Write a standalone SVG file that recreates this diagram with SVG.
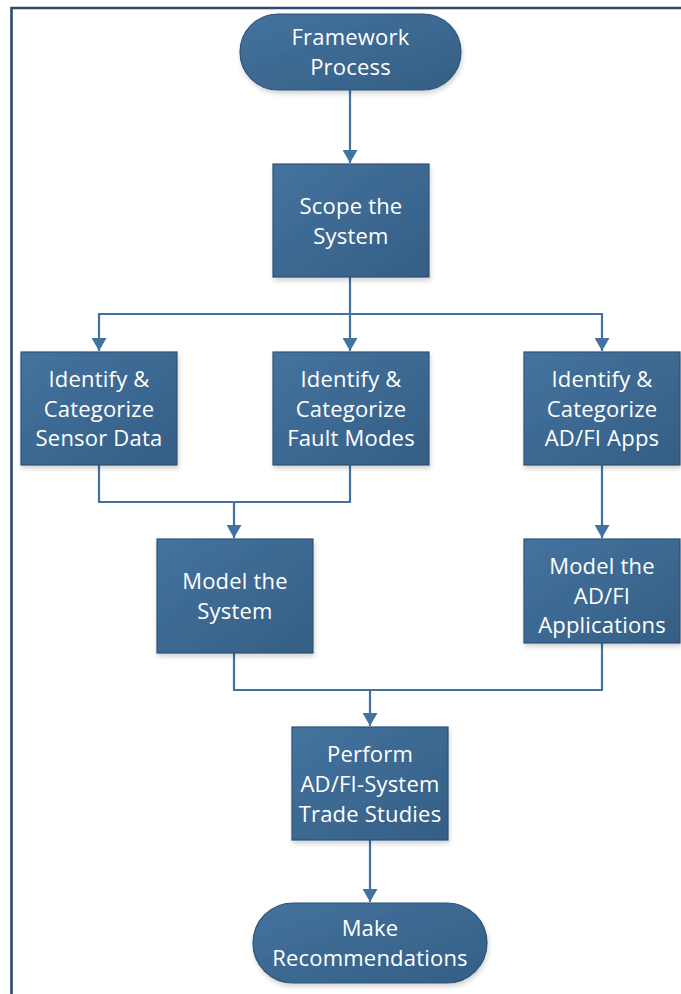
<svg xmlns="http://www.w3.org/2000/svg" width="681" height="994" viewBox="0 0 681 994">
<style>
.n{fill:url(#g);stroke:#2e5276;stroke-width:1.2;filter:url(#sh)}
.t{font-family:"Open Sans","Noto Sans","Liberation Sans",sans-serif;font-size:22px;fill:#ffffff;text-anchor:middle;letter-spacing:0.2px}
.c{fill:none;stroke:#4472a0;stroke-width:2.2}
</style>
<defs>
<linearGradient id="g" x1="0" y1="0" x2="1" y2="1">
<stop offset="0" stop-color="#44739e"/>
<stop offset="1" stop-color="#345e85"/>
</linearGradient>
<filter id="sh" x="-10%" y="-10%" width="130%" height="130%">
<feGaussianBlur in="SourceAlpha" stdDeviation="2.5"/>
<feOffset dx="1" dy="3" result="b"/>
<feComponentTransfer><feFuncA type="linear" slope="0.18"/></feComponentTransfer>
<feMerge><feMergeNode/><feMergeNode in="SourceGraphic"/></feMerge>
</filter>
<marker id="a" viewBox="0 0 14 15" refX="13" refY="7.5" markerWidth="14" markerHeight="15" markerUnits="userSpaceOnUse" orient="auto">
<path d="M0,0 L13,7.5 L0,15 Z" fill="#4472a0"/>
</marker>
</defs>
<path d="M11.5,994 V8 H681" fill="none" stroke="#2c4a6e" stroke-width="2.6"/>
<g id="connectors">
<path class="c" d="M350,90 V163" marker-end="url(#a)"/>
<path class="c" d="M350,277 V314 H99 V351" marker-end="url(#a)"/>
<path class="c" d="M350,314 V351" marker-end="url(#a)"/>
<path class="c" d="M350,314 H602 V351" marker-end="url(#a)"/>
<path class="c" d="M99,465 V502 H350 V465"/>
<path class="c" d="M234,502 V538" marker-end="url(#a)"/>
<path class="c" d="M602,465 V538" marker-end="url(#a)"/>
<path class="c" d="M234,653 V690 H602 V643"/>
<path class="c" d="M370,690 V726" marker-end="url(#a)"/>
<path class="c" d="M370,840 V902" marker-end="url(#a)"/>
</g>
<g id="framework-process">
<rect class="n" x="240" y="14" width="221" height="76" rx="38" ry="38"/>
<text class="t" x="350.5" y="45">Framework</text>
<text class="t" x="350.5" y="75">Process</text>
</g>
<g id="scope-system">
<rect class="n" x="273" y="164" width="156" height="113"/>
<text class="t" x="351" y="213.5">Scope the</text>
<text class="t" x="351" y="243.5">System</text>
</g>
<g id="sensor-data">
<rect class="n" x="21" y="352" width="156" height="113"/>
<text class="t" x="99" y="386.5">Identify &amp;</text>
<text class="t" x="99" y="416.5">Categorize</text>
<text class="t" x="99" y="446">Sensor Data</text>
</g>
<g id="fault-modes">
<rect class="n" x="273" y="352" width="156" height="113"/>
<text class="t" x="351" y="386.5">Identify &amp;</text>
<text class="t" x="351" y="416.5">Categorize</text>
<text class="t" x="351" y="446">Fault Modes</text>
</g>
<g id="adfi-apps">
<rect class="n" x="524" y="352" width="156" height="113"/>
<text class="t" x="602" y="386.5">Identify &amp;</text>
<text class="t" x="602" y="416.5">Categorize</text>
<text class="t" x="602" y="446">AD/FI Apps</text>
</g>
<g id="model-system">
<rect class="n" x="157" y="539" width="156" height="114"/>
<text class="t" x="235" y="589">Model the</text>
<text class="t" x="235" y="619">System</text>
</g>
<g id="model-adfi">
<rect class="n" x="524" y="539" width="156" height="104"/>
<text class="t" x="602" y="574">Model the</text>
<text class="t" x="602" y="603.5">AD/FI</text>
<text class="t" x="602" y="633">Applications</text>
</g>
<g id="trade-studies">
<rect class="n" x="292" y="727" width="156" height="113"/>
<text class="t" x="370" y="762">Perform</text>
<text class="t" x="370" y="792">AD/FI-System</text>
<text class="t" x="370" y="821.5">Trade Studies</text>
</g>
<g id="recommendations">
<rect class="n" x="253" y="903" width="234" height="80" rx="40" ry="40"/>
<text class="t" x="370" y="936">Make</text>
<text class="t" x="370" y="965.5">Recommendations</text>
</g>
</svg>
